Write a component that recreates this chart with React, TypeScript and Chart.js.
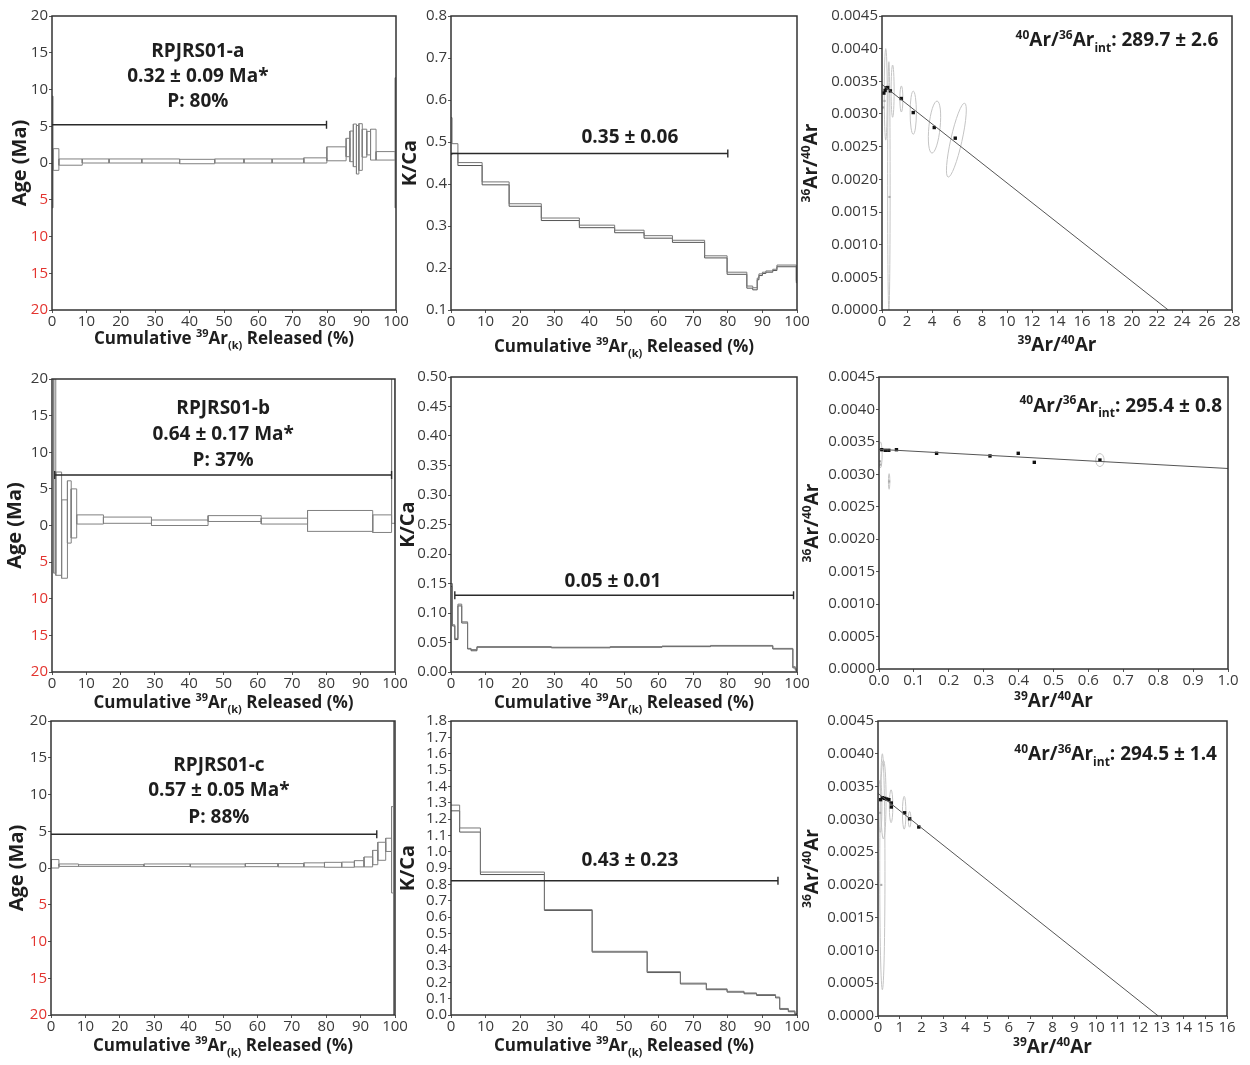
import React, { useEffect, useRef } from 'react';
import { Chart, registerables } from 'chart.js';

Chart.register(...registerables);

const FONT = '"Open Sans", "DejaVu Sans", sans-serif';
Chart.defaults.font.family = FONT;
const TICK_COLOR = '#3a3a3a';
const NEG_COLOR = '#e3342f';
const INK = '#1e1e1e';

// ---------------- Age spectra: cumulative 39Ar edges (%), upper / lower age bounds (Ma)
const AGE_A_EDGES = [0, 0.3, 2.0, 8.8, 16.6, 26.1, 37.1, 47.3, 55.8, 64.0, 73.2, 79.9, 85.5, 86.6, 87.6, 88.5, 89.2, 90.2, 91.5, 92.6, 94.2, 99.8, 100];
const AGE_A_HI = [9.1, 1.95, 0.55, 0.55, 0.55, 0.55, 0.5, 0.55, 0.55, 0.55, 0.7, 2.2, 3.36, 4.35, 5.3, 5.1, 5.35, 4.6, 4.3, 4.6, 1.55, 11.6];
const AGE_A_LO = [-6.1, -1.0, -0.3, 0.0, 0.0, 0.0, -0.1, 0.0, 0.0, 0.0, 0.0, 0.3, 0.86, 0.18, -0.5, -1.5, -1.0, 0.8, 1.1, 0.4, 0.4, -6.1];
const AGE_A_PLATEAU = [0, 79.8, 5.2];
const AGE_A_TEXT = ['RPJRS01-a', '0.32 ± 0.09 Ma*', 'P: 80%'];

const AGE_B_EDGES = [0.5, 1.1, 2.8, 4.5, 5.6, 7.2, 15.0, 29.0, 45.5, 61.0, 74.5, 93.5, 99.0, 100];
const AGE_B_HI = [25, 7.3, 3.5, 6.1, 5.0, 1.45, 1.15, 0.75, 1.35, 1.0, 2.05, 1.45, 25];
const AGE_B_LO = [-6.5, -6.8, -7.2, -2.4, -1.7, 0.2, 0.3, 0.0, 0.55, 0.2, -0.8, -0.95, 0.3];
const AGE_B_PLATEAU = [0.8, 99.0, 6.9];
const AGE_B_TEXT = ['RPJRS01-b', '0.64 ± 0.17 Ma*', 'P: 37%'];

const AGE_C_EDGES = [0, 2.3, 8.0, 27.0, 40.5, 56.5, 66.0, 73.5, 79.5, 84.5, 88.2, 91.0, 93.5, 95.0, 97.3, 99.0, 99.6, 100];
const AGE_C_HI = [1.15, 0.55, 0.45, 0.55, 0.55, 0.6, 0.6, 0.7, 0.77, 0.8, 1.0, 1.5, 2.4, 3.5, 4.05, 8.35, 25];
const AGE_C_LO = [0.0, 0.22, 0.22, 0.2, 0.15, 0.18, 0.15, 0.15, 0.1, 0.1, 0.15, 0.15, 0.45, 1.05, 2.25, -3.4, -25];
const AGE_C_PLATEAU = [0, 94.7, 4.6];
const AGE_C_TEXT = ['RPJRS01-c', '0.57 ± 0.05 Ma*', 'P: 88%'];

const AGE_TICKS = [-20, 20, 5];

// ---------------- K/Ca spectra: cumulative edges, upper / lower bounds
const KCA_A_EDGES = [0, 0.3, 2.0, 9.0, 16.8, 26.1, 37.1, 47.3, 55.8, 64.0, 73.3, 79.8, 85.5, 87.2, 88.5, 89.0, 90.0, 91.0, 93.0, 94.2, 99.8, 100];
const KCA_A_HI = [0.558, 0.496, 0.451, 0.405, 0.353, 0.319, 0.302, 0.290, 0.277, 0.266, 0.229, 0.19, 0.157, 0.153, 0.176, 0.186, 0.19, 0.193, 0.197, 0.207, 0.17];
const KCA_A_LO = [0.47, 0.473, 0.444, 0.398, 0.347, 0.313, 0.296, 0.284, 0.271, 0.261, 0.224, 0.185, 0.152, 0.148, 0.172, 0.182, 0.187, 0.19, 0.194, 0.203, 0.165];
const KCA_A_PLATEAU = [0, 80, 0.4725];
const KCA_A_LABEL = '0.35 ± 0.06';

const KCA_B_EDGES = [0, 0.4, 1.1, 2.0, 3.1, 4.8, 5.8, 7.5, 29, 46, 61, 75, 93, 98.8, 99.5, 100];
const KCA_B_HI = [0.15, 0.08, 0.057, 0.115, 0.085, 0.04, 0.038, 0.043, 0.042, 0.043, 0.044, 0.045, 0.04, 0.009, 0.005];
const KCA_B_LO = [0.145, 0.078, 0.055, 0.112, 0.083, 0.039, 0.036, 0.042, 0.041, 0.042, 0.043, 0.044, 0.039, 0.007, 0.003];
const KCA_B_PLATEAU = [1.1, 99.0, 0.13];
const KCA_B_LABEL = '0.05 ± 0.01';

const KCA_C_EDGES = [0, 2.5, 8.5, 27.0, 40.8, 56.7, 66.3, 73.8, 79.8, 84.7, 88.3, 93.8, 95.0, 97.5, 99.4, 100];
const KCA_C_HI = [1.285, 1.145, 0.875, 0.645, 0.39, 0.265, 0.195, 0.16, 0.145, 0.135, 0.125, 0.11, 0.04, 0.025, 0.008];
const KCA_C_LO = [1.25, 1.12, 0.86, 0.64, 0.385, 0.26, 0.19, 0.155, 0.14, 0.13, 0.12, 0.105, 0.035, 0.02, 0.004];
const KCA_C_PLATEAU = [0, 94.5, 0.8216];
const KCA_C_LABEL = '0.43 ± 0.23';

// ---------------- Inverse isochrons
const ISO_A_X = [0.15, 0.25, 0.35, 0.45, 0.67, 1.54, 2.5, 4.18, 5.86];
const ISO_A_Y = [0.00332, 0.00336, 0.0034, 0.003405, 0.003354, 0.003237, 0.003022, 0.002793, 0.00263];
const ISO_A_GRAY_X = [0.6, 0.1, 0.2];
const ISO_A_GRAY_Y = [0.00173, 0.0031, 0.0032];
const ISO_A_FIT_X = [0, 22.9];
const ISO_A_FIT_Y = [0.003452, 0];
const ISO_A_ELL_X = [0.3, 0.55, 0.85, 1.55, 2.5, 4.2, 5.95];
const ISO_A_ELL_Y = [0.0033, 0.0019, 0.00335, 0.00323, 0.00302, 0.0028, 0.0026];
const ISO_A_ELL_RX = [0.12, 0.1, 0.12, 0.12, 0.25, 0.45, 0.45];
const ISO_A_ELL_RY = [0.0007, 0.0019, 0.0004, 0.0002, 0.00033, 0.0004, 0.00058];
const ISO_A_ELL_ROT = [0, 0, 0, 0, 0, 0.1, 0.22];
const ISO_A_LABEL = ': 289.7 ± 2.6';

const ISO_B_X = [0.008, 0.018, 0.028, 0.05, 0.165, 0.318, 0.399, 0.445, 0.633];
const ISO_B_Y = [0.00338, 0.00337, 0.00337, 0.00338, 0.003324, 0.003283, 0.003324, 0.003185, 0.00322];
const ISO_B_GRAY_X = [0.029, 0.003, 0.004];
const ISO_B_GRAY_Y = [0.00289, 0.0032, 0.00315];
const ISO_B_FIT_X = [0, 1.0];
const ISO_B_FIT_Y = [0.003385, 0.00309];
const ISO_B_ELL_X = [0.004, 0.633, 0.029];
const ISO_B_ELL_Y = [0.0033, 0.00322, 0.00289];
const ISO_B_ELL_RX = [0.005, 0.012, 0.002];
const ISO_B_ELL_RY = [0.0002, 0.0001, 0.00012];
const ISO_B_ELL_ROT = [0, 0, 0];
const ISO_B_LABEL = ': 295.4 ± 0.8';

const ISO_C_X = [0.12, 0.2, 0.3, 0.4, 0.5, 0.61, 0.61, 1.22, 1.45, 1.87];
const ISO_C_Y = [0.0033, 0.00333, 0.00332, 0.00331, 0.0033, 0.003249, 0.003188, 0.0031, 0.003008, 0.002883];
const ISO_C_GRAY_X = [0.15, 0.1];
const ISO_C_GRAY_Y = [0.002, 0.0031];
const ISO_C_FIT_X = [0, 12.85];
const ISO_C_FIT_Y = [0.003396, 0];
const ISO_C_ELL_X = [0.2, 0.25, 0.6, 1.2, 1.45, 0.1];
const ISO_C_ELL_Y = [0.0022, 0.0033, 0.0032, 0.0031, 0.003, 0.0032];
const ISO_C_ELL_RX = [0.12, 0.12, 0.08, 0.08, 0.06, 0.08];
const ISO_C_ELL_RY = [0.0018, 0.0006, 0.00025, 0.00025, 0.00012, 0.0004];
const ISO_C_ELL_ROT = [0, 0, 0, 0, 0, 0];
const ISO_C_LABEL = ': 294.5 ± 1.4';

// ---------------- text helpers
type Seg = { t: string; s?: 'sup' | 'sub' };

const CUM_TITLE: Seg[] = [{ t: 'Cumulative ' }, { t: '39', s: 'sup' }, { t: 'Ar' }, { t: '(k)', s: 'sub' }, { t: ' Released (%)' }];
const ISO_X_TITLE: Seg[] = [{ t: '39', s: 'sup' }, { t: 'Ar/' }, { t: '40', s: 'sup' }, { t: 'Ar' }];
const ISO_Y_TITLE: Seg[] = [{ t: '36', s: 'sup' }, { t: 'Ar/' }, { t: '40', s: 'sup' }, { t: 'Ar' }];
const isoNote = (v: string): Seg[] => [{ t: '40', s: 'sup' }, { t: 'Ar/' }, { t: '36', s: 'sup' }, { t: 'Ar' }, { t: 'int', s: 'sub' }, { t: v }];

function drawRich(ctx: CanvasRenderingContext2D, segs: Seg[], x: number, y: number, size: number, align: string, rot = 0) {
  ctx.save();
  ctx.translate(x, y);
  if (rot) ctx.rotate(rot);
  const small = Math.round(size * 0.62);
  const widths = segs.map((sg) => {
    ctx.font = `bold ${sg.s ? small : size}px ${FONT}`;
    return ctx.measureText(sg.t).width;
  });
  const total = widths.reduce((a, b) => a + b, 0);
  let cx = align === 'center' ? -total / 2 : align === 'right' ? -total : 0;
  ctx.fillStyle = INK;
  ctx.textBaseline = 'middle';
  ctx.textAlign = 'left';
  segs.forEach((sg, i) => {
    ctx.font = `bold ${sg.s ? small : size}px ${FONT}`;
    const dy = sg.s === 'sup' ? -size * 0.3 : sg.s === 'sub' ? size * 0.4 : 0;
    ctx.fillText(sg.t, cx, dy);
    cx += widths[i];
  });
  ctx.restore();
}

// ---------------- dataset builders
function boxDatasets(edges: number[], hi: number[], lo: number[]) {
  return hi.map((h, i) => ({
    data: [
      { x: edges[i], y: lo[i] },
      { x: edges[i + 1], y: lo[i] },
      { x: edges[i + 1], y: h },
      { x: edges[i], y: h },
      { x: edges[i], y: lo[i] },
    ],
    showLine: true,
    borderColor: '#808080',
    borderWidth: 1,
    pointRadius: 0,
    tension: 0,
  }));
}

function stepDatasets(edges: number[], hi: number[], lo: number[]) {
  const mk = (vals: number[], color: string) => ({
    data: edges.map((x, i) => ({ x, y: vals[Math.min(i, vals.length - 1)] })),
    showLine: true,
    stepped: 'before',
    borderColor: color,
    borderWidth: 1,
    pointRadius: 0,
  });
  return [mk(hi, '#777'), mk(lo, '#555')];
}

function isoDatasets(fx: number[], fy: number[], px: number[], py: number[], gx: number[], gy: number[]) {
  return [
    { data: fx.map((x, i) => ({ x, y: fy[i] })), showLine: true, borderColor: '#555', borderWidth: 1, pointRadius: 0 },
    { data: gx.map((x, i) => ({ x, y: gy[i] })), showLine: false, pointStyle: 'rect', pointRadius: 1.5, backgroundColor: '#aaa', borderColor: '#aaa', borderWidth: 0 },
    { data: px.map((x, i) => ({ x, y: py[i] })), showLine: false, pointStyle: 'rect', pointRadius: 2.4, backgroundColor: '#111', borderColor: '#111', borderWidth: 0 },
  ];
}

// ---------------- panels
const PT = 10;
const PR = 16;
const H = 50;

type Panel = any;

function agePanel(area: number[], edges: number[], hi: number[], lo: number[], plateau: number[], caps: boolean[], text: string[], textX: number, textY: number[], yDx: number, xDy: number): Panel {
  return {
    area, W: area[0],
    x: { min: 0, max: 100, step: 10, fmt: (v: number) => String(v) },
    y: { min: AGE_TICKS[0], max: AGE_TICKS[1], step: AGE_TICKS[2], fmt: (v: number) => String(Math.abs(v)), negRed: true },
    datasets: boxDatasets(edges, hi, lo),
    plateau: { v: plateau, caps },
    notes: text.map((t, i) => ({ segs: [{ t }], x: textX, y: textY[i], size: 19, align: 'center' })),
    xTitle: { segs: CUM_TITLE, dy: xDy, size: 17 },
    yTitle: { segs: [{ t: 'Age (Ma)' }], dx: yDx, size: 20 },
  };
}

function kcaPanel(area: number[], edges: number[], hi: number[], lo: number[], yr: number[], dec: number, plateau: number[], caps: boolean[], label: string, lx: number, ly: number, yDx: number, xDy: number): Panel {
  return {
    area, W: area[0] - 398,
    x: { min: 0, max: 100, step: 10, fmt: (v: number) => String(v) },
    y: { min: yr[0], max: yr[1], step: yr[2], fmt: (v: number) => v.toFixed(dec) },
    datasets: stepDatasets(edges, hi, lo),
    plateau: { v: plateau, caps },
    notes: [{ segs: [{ t: label }], x: lx, y: ly, size: 19, align: 'center' }],
    xTitle: { segs: CUM_TITLE, dy: xDy, size: 17 },
    yTitle: { segs: [{ t: 'K/Ca' }], dx: yDx, size: 20 },
  };
}

function isoPanel(area: number[], xr: number[], xdec: number, fx: number[], fy: number[], px: number[], py: number[], gx: number[], gy: number[], ell: number[][], label: string, lx: number, ly: number, yDx: number, xDy: number): Panel {
  return {
    area, W: area[0] - 800,
    x: { min: xr[0], max: xr[1], step: xr[2], fmt: (v: number) => v.toFixed(xdec) },
    y: { min: 0, max: 0.0045, step: 0.0005, fmt: (v: number) => v.toFixed(4) },
    datasets: isoDatasets(fx, fy, px, py, gx, gy),
    ellipses: ell,
    notes: [{ segs: isoNote(label), x: lx, y: ly, size: 19, align: 'right' }],
    xTitle: { segs: ISO_X_TITLE, dy: xDy, size: 19 },
    yTitle: { segs: ISO_Y_TITLE, dx: yDx, size: 19 },
  };
}

const PANELS: Panel[] = [
  agePanel([52, 16, 396, 310], AGE_A_EDGES, AGE_A_HI, AGE_A_LO, AGE_A_PLATEAU, [false, true], AGE_A_TEXT, 42.4, [15.2, 11.7, 8.3], -32, 29),
  kcaPanel([451, 16, 797, 310], KCA_A_EDGES, KCA_A_HI, KCA_A_LO, [0.1, 0.8, 0.1], 1, KCA_A_PLATEAU, [false, true], KCA_A_LABEL, 51.7, 0.51, -41, 37),
  isoPanel([882, 16, 1232, 310], [0, 28, 2], 0, ISO_A_FIT_X, ISO_A_FIT_Y, ISO_A_X, ISO_A_Y, ISO_A_GRAY_X, ISO_A_GRAY_Y,
    [ISO_A_ELL_X, ISO_A_ELL_Y, ISO_A_ELL_RX, ISO_A_ELL_RY, ISO_A_ELL_ROT], ISO_A_LABEL, 26.9, 0.00412, -70, 36),

  agePanel([52, 379, 395, 672], AGE_B_EDGES, AGE_B_HI, AGE_B_LO, AGE_B_PLATEAU, [true, true], AGE_B_TEXT, 49.9, [15.9, 12.35, 8.9], -37, 31),
  kcaPanel([451, 377, 797, 672], KCA_B_EDGES, KCA_B_HI, KCA_B_LO, [0, 0.5, 0.05], 2, KCA_B_PLATEAU, [true, true], KCA_B_LABEL, 46.8, 0.154, -43, 31),
  isoPanel([879, 377, 1228, 669], [0, 1, 0.1], 1, ISO_B_FIT_X, ISO_B_FIT_Y, ISO_B_X, ISO_B_Y, ISO_B_GRAY_X, ISO_B_GRAY_Y,
    [ISO_B_ELL_X, ISO_B_ELL_Y, ISO_B_ELL_RX, ISO_B_ELL_RY, ISO_B_ELL_ROT], ISO_B_LABEL, 0.983, 0.00405, -66, 33),

  agePanel([51, 721, 395, 1015], AGE_C_EDGES, AGE_C_HI, AGE_C_LO, AGE_C_PLATEAU, [false, true], AGE_C_TEXT, 48.8, [13.9, 10.5, 6.9], -34, 31),
  kcaPanel([451, 721, 797, 1015], KCA_C_EDGES, KCA_C_HI, KCA_C_LO, [0, 1.8, 0.1], 1, KCA_C_PLATEAU, [false, true], KCA_C_LABEL, 51.7, 0.943, -43, 31),
  isoPanel([878, 721, 1227, 1016], [0, 16, 1], 0, ISO_C_FIT_X, ISO_C_FIT_Y, ISO_C_X, ISO_C_Y, ISO_C_GRAY_X, ISO_C_GRAY_Y,
    [ISO_C_ELL_X, ISO_C_ELL_Y, ISO_C_ELL_RX, ISO_C_ELL_RY, ISO_C_ELL_ROT], ISO_C_LABEL, 15.54, 0.00398, -65, 32),
];

function decorPlugin(spec: Panel) {
  return {
    id: 'decor',
    beforeDatasetsDraw(chart: any) {
      if (!spec.ellipses) return;
      const { ctx, chartArea: a, scales } = chart;
      const sx = scales.x, sy = scales.y;
      const [ex, ey, erx, ery, erot] = spec.ellipses;
      ctx.save();
      ctx.beginPath();
      ctx.rect(a.left, a.top, a.right - a.left, a.bottom - a.top);
      ctx.clip();
      ctx.strokeStyle = '#c4c4c4';
      ctx.lineWidth = 1;
      ex.forEach((cx: number, i: number) => {
        const px = sx.getPixelForValue(cx);
        const py = sy.getPixelForValue(ey[i]);
        const rx = Math.abs(sx.getPixelForValue(cx + erx[i]) - px);
        const ry = Math.abs(sy.getPixelForValue(ey[i] + ery[i]) - py);
        ctx.beginPath();
        ctx.ellipse(px, py, rx, ry, erot[i], 0, Math.PI * 2);
        ctx.stroke();
      });
      ctx.restore();
    },
    afterDraw(chart: any) {
      const { ctx, chartArea: a, scales } = chart;
      const sx = scales.x, sy = scales.y;
      ctx.save();
      ctx.strokeStyle = '#333';
      ctx.lineWidth = 1.5;
      ctx.strokeRect(a.left, a.top, a.right - a.left, a.bottom - a.top);
      if (spec.plateau) {
        const [x0, x1, v] = spec.plateau.v;
        const p0 = sx.getPixelForValue(x0);
        const p1 = sx.getPixelForValue(x1);
        const py = sy.getPixelForValue(v);
        ctx.strokeStyle = '#2a2a2a';
        ctx.lineWidth = 1.4;
        ctx.beginPath();
        ctx.moveTo(p0, py);
        ctx.lineTo(p1, py);
        if (spec.plateau.caps[0]) { ctx.moveTo(p0, py - 4); ctx.lineTo(p0, py + 4); }
        if (spec.plateau.caps[1]) { ctx.moveTo(p1, py - 4); ctx.lineTo(p1, py + 4); }
        ctx.stroke();
      }
      spec.notes.forEach((n: any) => {
        drawRich(ctx, n.segs, sx.getPixelForValue(n.x), sy.getPixelForValue(n.y), n.size, n.align);
      });
      const cxm = (a.left + a.right) / 2;
      const cym = (a.top + a.bottom) / 2;
      drawRich(ctx, spec.xTitle.segs, cxm, a.bottom + spec.xTitle.dy, spec.xTitle.size, 'center');
      drawRich(ctx, spec.yTitle.segs, a.left + spec.yTitle.dx, cym, spec.yTitle.size, 'center', -Math.PI / 2);
      ctx.restore();
    },
  };
}

function buildConfig(spec: Panel): any {
  const W = spec.W;
  return {
    type: 'scatter',
    data: { datasets: spec.datasets },
    options: {
      animation: false,
      responsive: false,
      events: [],
      layout: { padding: { left: 0, top: PT, right: PR, bottom: 0 } },
      plugins: { legend: { display: false }, tooltip: { enabled: false } },
      scales: {
        x: {
          type: 'linear',
          min: spec.x.min,
          max: spec.x.max,
          border: { display: false },
          grid: { drawOnChartArea: false, drawTicks: true, tickLength: 3, color: '#555' },
          ticks: {
            stepSize: spec.x.step,
            autoSkip: false,
            maxRotation: 0,
            padding: 0,
            color: TICK_COLOR,
            font: { size: 15, family: FONT },
            callback: (v: number) => spec.x.fmt(v),
          },
          afterFit: (s: any) => { s.height = H; s.paddingLeft = 0; s.paddingRight = 0; },
        },
        y: {
          type: 'linear',
          min: spec.y.min,
          max: spec.y.max,
          border: { display: false },
          grid: { drawOnChartArea: false, drawTicks: true, tickLength: 3, color: '#555' },
          ticks: {
            stepSize: spec.y.step,
            autoSkip: false,
            padding: 1,
            color: (c: any) => (spec.y.negRed && c.tick && c.tick.value < 0 ? NEG_COLOR : TICK_COLOR),
            font: { size: 15, family: FONT },
            callback: (v: number) => spec.y.fmt(v),
          },
          afterFit: (s: any) => { s.width = W; s.paddingTop = 0; s.paddingBottom = 0; },
        },
      },
    },
    plugins: [decorPlugin(spec)],
  };
}

function PanelChart({ spec }: { spec: Panel }) {
  const ref = useRef<HTMLCanvasElement | null>(null);
  useEffect(() => {
    const chart = new Chart(ref.current as HTMLCanvasElement, buildConfig(spec));
    return () => chart.destroy();
  }, [spec]);
  const [l, t, r, b] = spec.area;
  const cw = spec.W + (r - l) + PR;
  const ch = PT + (b - t) + H;
  return (
    <canvas
      ref={ref}
      width={cw}
      height={ch}
      style={{ position: 'absolute', left: l - spec.W, top: t - PT, width: cw, height: ch }}
    />
  );
}

export default function App() {
  return (
    <div style={{ position: 'absolute', left: 0, top: 0, width: 1250, height: 1065, background: '#fff', overflow: 'hidden' }}>
      {PANELS.map((p, i) => (
        <PanelChart key={i} spec={p} />
      ))}
    </div>
  );
}
